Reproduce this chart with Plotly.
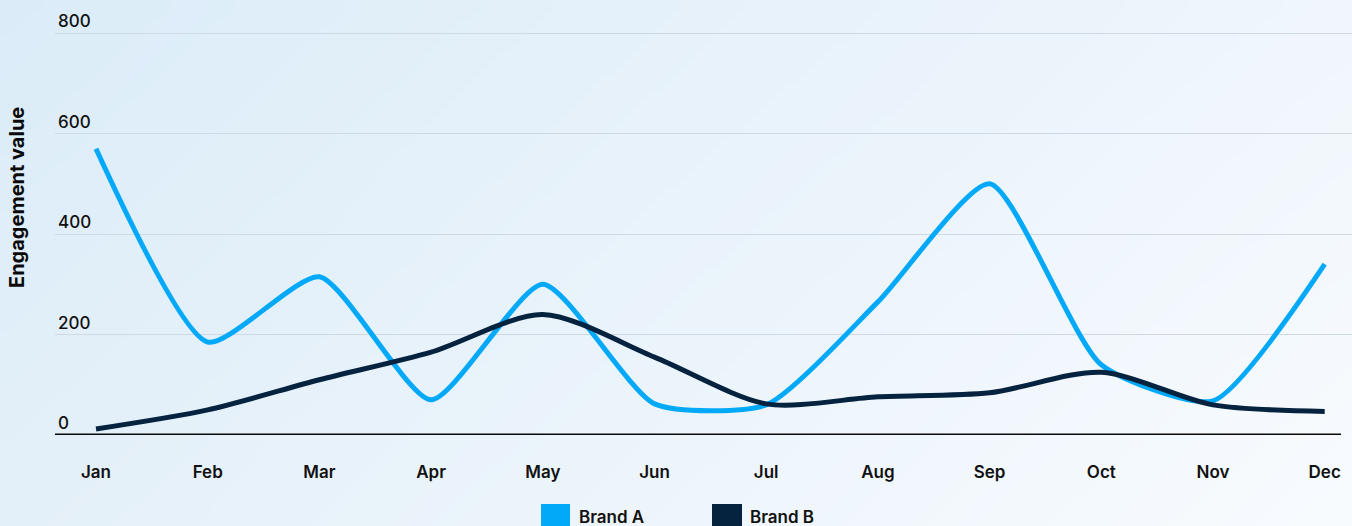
import base64
import struct
import zlib

import plotly.graph_objects as go

# Monthly engagement values
months = ["Jan", "Feb", "Mar", "Apr", "May", "Jun",
          "Jul", "Aug", "Sep", "Oct", "Nov", "Dec"]
brand_a = [570, 185, 315, 70, 300, 62, 60, 265, 500, 140, 68, 340]
brand_b = [12, 50, 110, 165, 240, 155, 62, 76, 84, 125, 60, 47]
y_ticks = [0, 200, 400, 600, 800]

COLOR_A = "#03a9f9"
COLOR_B = "#05233f"
FONT = "Inter"

W, H = 1352, 526
M_L, M_R, M_T, M_B = 55, 0, 0, 91
PLOT_W = W - M_L - M_R
PLOT_H = H - M_T - M_B


def gradient_png(w, h, tl, tr, bl, br):
    """Small RGB PNG with a bilinear corner gradient."""
    raw = bytearray()
    for j in range(h):
        v = j / (h - 1)
        raw.append(0)
        for i in range(w):
            u = i / (w - 1)
            for c in range(3):
                top = tl[c] * (1 - u) + tr[c] * u
                bot = bl[c] * (1 - u) + br[c] * u
                raw.append(int(round(top * (1 - v) + bot * v)))

    def chunk(tag, data):
        body = tag + data
        return (struct.pack(">I", len(data)) + body
                + struct.pack(">I", zlib.crc32(body) & 0xFFFFFFFF))

    png = b"\x89PNG\r\n\x1a\n"
    png += chunk(b"IHDR", struct.pack(">IIBBBBB", w, h, 8, 2, 0, 0, 0))
    png += chunk(b"IDAT", zlib.compress(bytes(raw), 9))
    png += chunk(b"IEND", b"")
    return "data:image/png;base64," + base64.b64encode(png).decode()


bg = gradient_png(170, 66,
                  (219, 236, 248), (240, 246, 252),
                  (228, 240, 249), (248, 251, 254))

fig = go.Figure()
fig.add_trace(go.Scatter(
    x=months, y=brand_a, name="Brand A", mode="lines",
    line=dict(color=COLOR_A, width=5, shape="spline", smoothing=0.6),
    showlegend=False,
))
fig.add_trace(go.Scatter(
    x=months, y=brand_b, name="Brand B", mode="lines",
    line=dict(color=COLOR_B, width=5, shape="spline", smoothing=0.8),
    showlegend=False,
))

step = 111.7
first_px = 96 - M_L
x_lo = -first_px / step
x_hi = (PLOT_W - first_px) / step

fig.update_xaxes(
    type="category", range=[x_lo, x_hi],
    showgrid=False, zeroline=False, showline=False,
    ticks="outside", ticklen=0, ticklabelstandoff=22,
    tickfont=dict(family=FONT, size=17, color="#111111", weight=600),
)
fig.update_yaxes(
    range=[0, 866], tickvals=y_ticks,
    ticklabelposition="inside top",
    showgrid=True, gridcolor="#cfd9e2", gridwidth=1,
    zeroline=False, showline=False,
    tickfont=dict(family=FONT, size=17, color="#111111", weight=500),
)


def px_to_paper_x(px):
    return (px - M_L) / PLOT_W


def px_to_paper_y(py):
    return (M_T + PLOT_H - py) / PLOT_H


shapes = [
    # baseline
    dict(type="line", xref="paper", yref="y",
         x0=0, x1=px_to_paper_x(1341), y0=0, y1=0,
         line=dict(color="#0a0a0a", width=3), layer="above"),
    # legend swatches
    dict(type="rect", xref="paper", yref="paper",
         x0=px_to_paper_x(541), x1=px_to_paper_x(570),
         y0=px_to_paper_y(504), y1=px_to_paper_y(532),
         fillcolor=COLOR_A, line=dict(width=0)),
    dict(type="rect", xref="paper", yref="paper",
         x0=px_to_paper_x(712), x1=px_to_paper_x(742),
         y0=px_to_paper_y(504), y1=px_to_paper_y(532),
         fillcolor=COLOR_B, line=dict(width=0)),
]

annotations = [
    dict(text="Engagement value", textangle=-90, showarrow=False,
         xref="paper", yref="paper",
         x=px_to_paper_x(17), y=px_to_paper_y(198),
         xanchor="center", yanchor="middle",
         font=dict(family=FONT, size=20, color="#0a0a0a", weight=700)),
    dict(text="Brand A", showarrow=False, xref="paper", yref="paper",
         x=px_to_paper_x(577), y=px_to_paper_y(517),
         xanchor="left", yanchor="middle",
         font=dict(family=FONT, size=17, color="#111111", weight=600)),
    dict(text="Brand B", showarrow=False, xref="paper", yref="paper",
         x=px_to_paper_x(748), y=px_to_paper_y(517),
         xanchor="left", yanchor="middle",
         font=dict(family=FONT, size=17, color="#111111", weight=600)),
]

fig.update_layout(
    width=W, height=H,
    margin=dict(l=M_L, r=M_R, t=M_T, b=M_B, pad=0),
    paper_bgcolor="#eaf3fa", plot_bgcolor="rgba(0,0,0,0)",
    shapes=shapes, annotations=annotations,
    images=[dict(source=bg, xref="paper", yref="paper",
                 x=px_to_paper_x(0), y=px_to_paper_y(0),
                 sizex=W / PLOT_W, sizey=H / PLOT_H,
                 xanchor="left", yanchor="top",
                 sizing="stretch", layer="below")],
    showlegend=False,
)

fig.write_html("out.html")
